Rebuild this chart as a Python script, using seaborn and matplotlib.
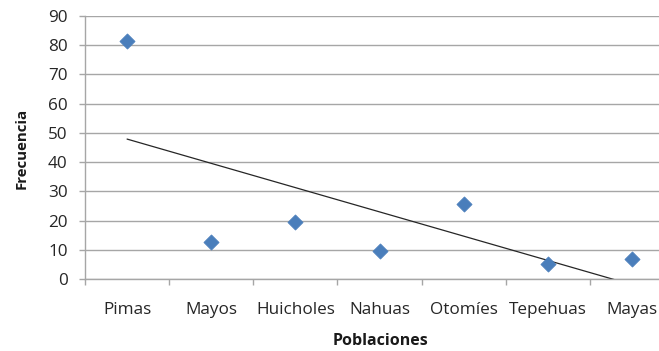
import numpy as np
import pandas as pd
import matplotlib
matplotlib.use("Agg")
import matplotlib.pyplot as plt
from matplotlib.ticker import FixedLocator, MultipleLocator
import seaborn as sns

poblaciones = ["Pimas", "Mayos", "Huicholes", "Nahuas", "Otomíes", "Tepehuas", "Mayas"]
frecuencia = [81.4, 12.7, 19.5, 9.5, 25.7, 5.1, 6.9]

df = pd.DataFrame({"pos": np.arange(len(poblaciones)), "poblacion": poblaciones,
                   "frecuencia": frecuencia})

sns.set_theme(style="white")
plt.rcParams["font.family"] = ["Open Sans", "DejaVu Sans"]

fig = plt.figure(figsize=(6.59, 3.51), dpi=100)
ax = fig.add_axes([85 / 659, 1 - 279 / 351, 589 / 659, 263 / 351])

grid_color = "#a6a6a6"

# linear trend line (least squares over the category index)
sns.regplot(data=df, x="pos", y="frecuencia", ax=ax, scatter=False, ci=None,
            truncate=True, line_kws=dict(color="#262626", lw=0.9, zorder=2))

sns.scatterplot(data=df, x="pos", y="frecuencia", ax=ax, marker="D", s=60,
                color="#4a7ebb", edgecolor="#4a7ebb", linewidth=0.5, zorder=3)

ax.set_xlim(-0.5, len(poblaciones) - 0.5)
ax.set_ylim(0, 90)
ax.yaxis.set_major_locator(MultipleLocator(10))
ax.yaxis.grid(True, color=grid_color, lw=1.0)
ax.xaxis.grid(False)
ax.set_axisbelow(True)

ax.set_xticks(df["pos"])
ax.set_xticklabels(poblaciones)
ax.xaxis.set_minor_locator(FixedLocator(np.arange(-0.5, len(poblaciones), 1.0)))
ax.tick_params(axis="x", which="major", length=0, pad=16.5, labelsize=12.3,
               labelcolor="#262626")
ax.tick_params(axis="x", which="minor", length=4.5, width=1.0, color=grid_color,
               direction="out", bottom=True)
ax.tick_params(axis="y", length=4.5, width=1.0, color=grid_color, direction="out",
               left=True, pad=8, labelsize=12.3, labelcolor="#262626")

for side in ["top", "right"]:
    ax.spines[side].set_visible(False)
for side in ["left", "bottom"]:
    ax.spines[side].set_color(grid_color)
    ax.spines[side].set_linewidth(1.0)

ax.set_xlabel("")
ax.set_ylabel("")
fig.text(380 / 659, 1 - 341 / 351, "Poblaciones", ha="center", va="center",
         fontsize=11.5, fontweight="bold", color="#1a1a1a")
fig.text(22 / 659, 1 - 148 / 351, "Frecuencia", ha="center", va="center",
         rotation=90, fontsize=10.8, fontweight="bold", color="#1a1a1a")

fig.savefig("out.png", dpi=100)
